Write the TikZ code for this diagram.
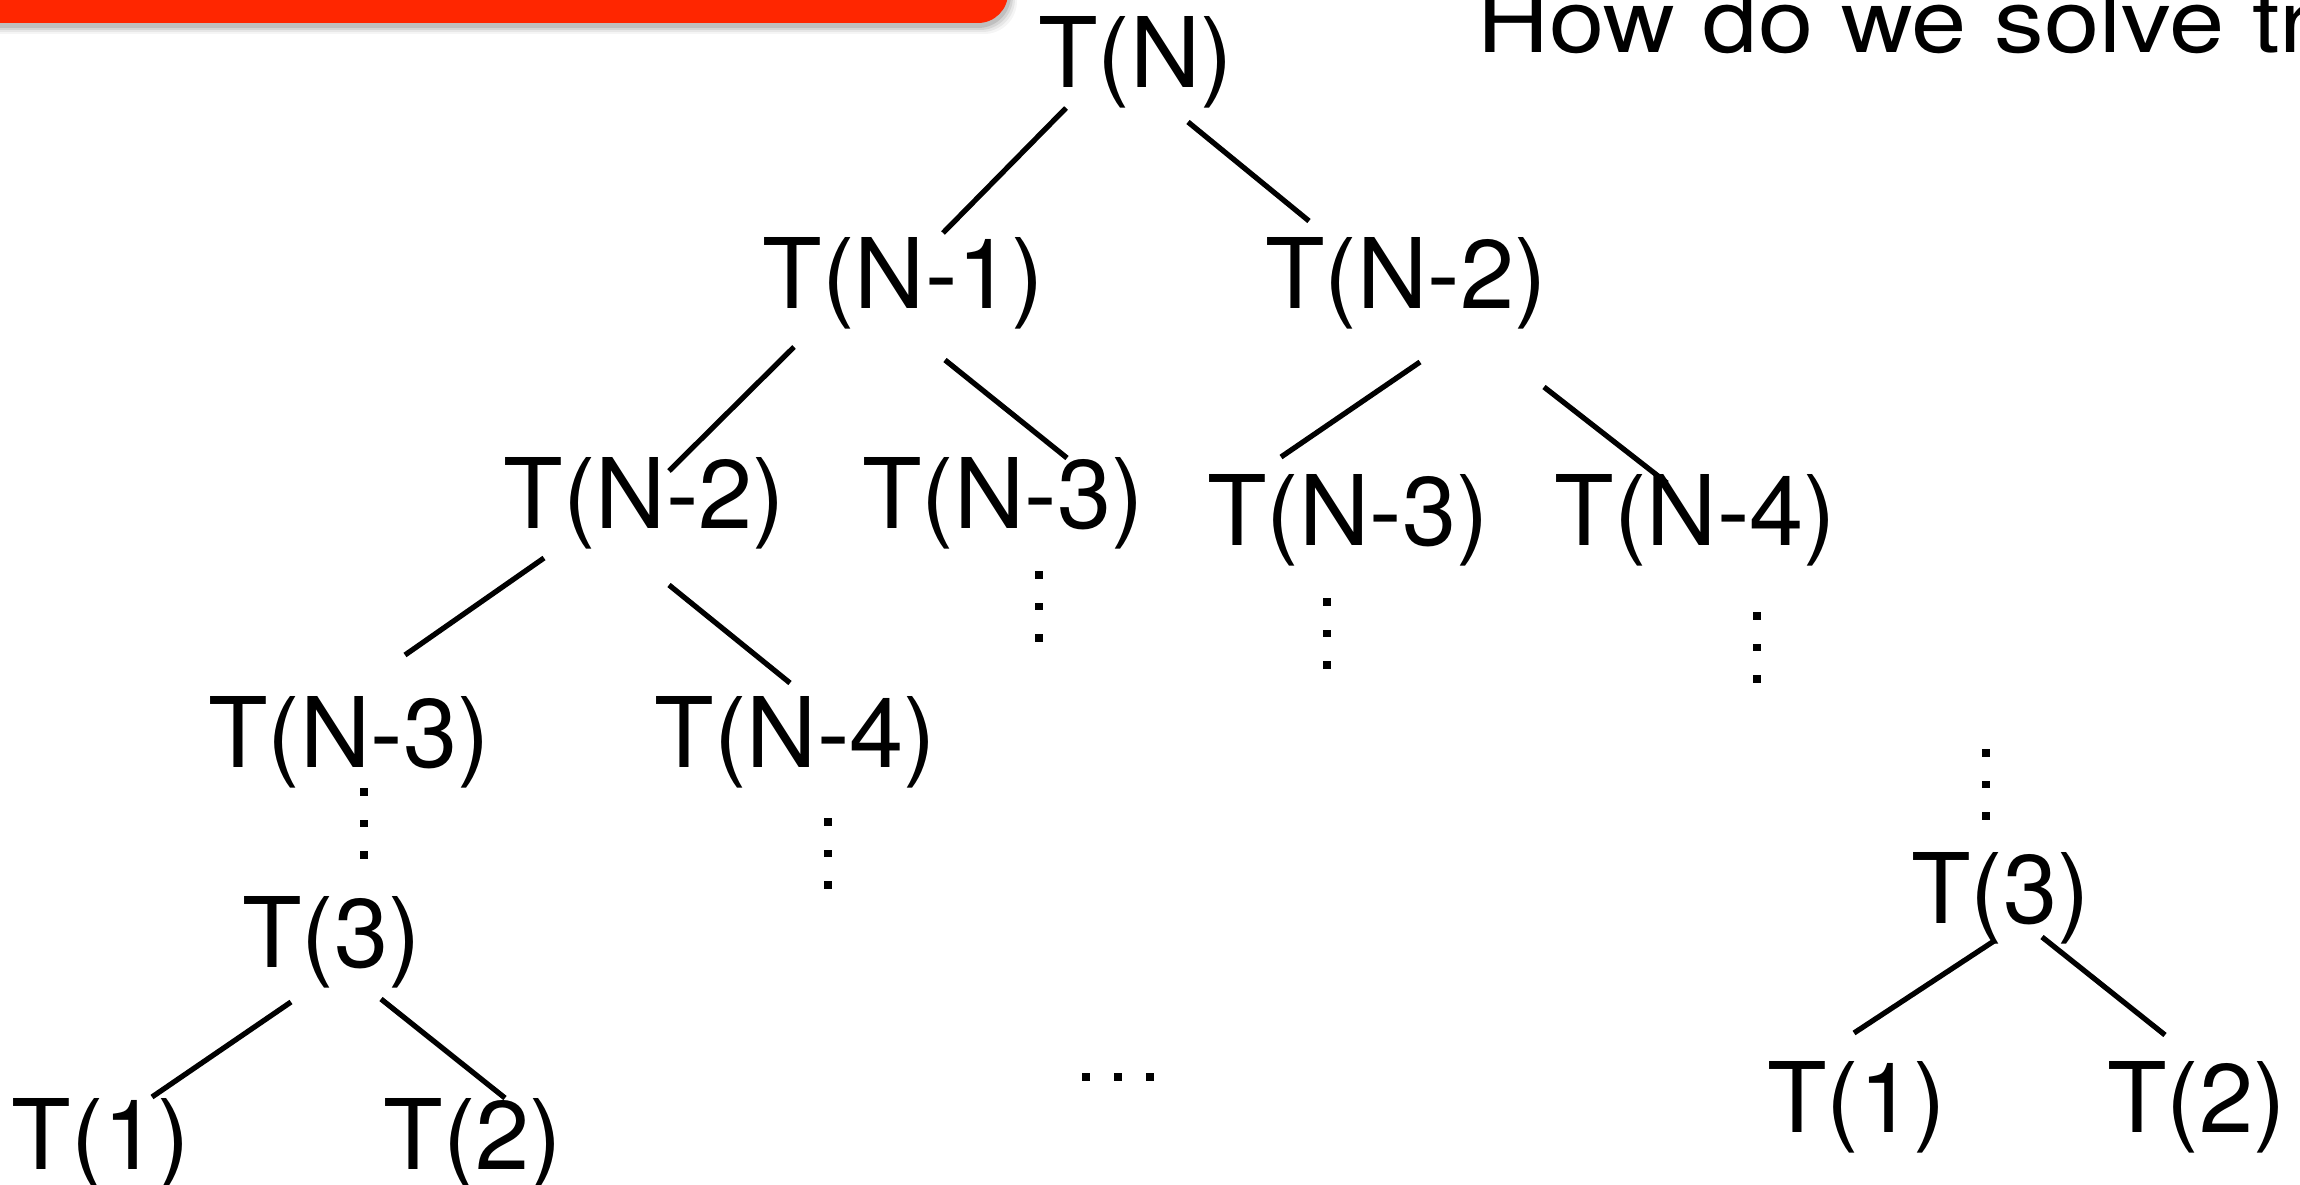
\documentclass[tikz,border=0pt]{standalone}
\usepackage{fontspec}
\setmainfont{TeX Gyre Heros}
\newfontfamily\headfont[FakeStretch=1.13]{TeX Gyre Heros}
\usetikzlibrary{calc}
\definecolor{barred}{RGB}{255,38,0}
\begin{document}
\begin{tikzpicture}[x=0.01cm,y=-0.01cm,
  term/.style={inner sep=0pt, anchor=base, font=\fontsize{27.7}{30}\selectfont},
  edge/.style={line width=1.5pt},
  pics/vdots/.style={code={\foreach \k in {0,1,2}{\fill (-3.75,-3.75+31.5*\k) rectangle (3.75,3.75+31.5*\k);}}},
  pics/hdots/.style={code={\foreach \k in {0,1,2}{\fill (-3.75+32*\k,-3.75) rectangle (3.75+32*\k,3.75);}}}
]
\useasboundingbox (0,0) rectangle (2300,1185);
\clip (0,0) rectangle (2300,1185);

% title bar with its soft shadow
\foreach \g/\o in {7/0.04,5/0.06,3/0.08,1/0.10}{
  \fill[black,opacity=\o,rounded corners=0.33cm] (-80,-80) rectangle (1010+\g,27+\g);
}
\fill[barred,rounded corners=0.3cm] (-80,-80) rectangle (1008,23);

% heading
\node[anchor=base west, inner sep=0pt, font=\headfont\fontsize{25}{29}\selectfont] (title) at (1477,53) {How do we solve tr};

% recursion tree
\node[term] (tN)  at (1135.5,88)  {T(N)};
\node[term] (tN1) at (903.5,308)  {T(N-1)};
\node[term] (tN2a) at (1406,308)  {T(N-2)};
\node[term] (tN2b) at (644.5,528) {T(N-2)};
\node[term] (tN3a) at (1003,528)  {T(N-3)};
\node[term] (tN3b) at (1348,545)  {T(N-3)};
\node[term] (tN4a) at (1695.5,545) {T(N-4)};
\node[term] (tN3c) at (349,767)   {T(N-3)};
\node[term] (tN4b) at (795.5,767) {T(N-4)};
\node[term] (t3a) at (331.5,967)  {T(3)};
\node[term] (t1a) at (101,1169)   {T(1)};
\node[term] (t2a) at (473,1169)   {T(2)};
\node[term] (t3b) at (2000.5,923) {T(3)};
\node[term] (t1b) at (1856.5,1132) {T(1)};
\node[term] (t2b) at (2196.5,1132) {T(2)};

\draw[edge] ($(tN.base)+(-69.5,20)$)  -- ($(tN1.base)+(39.5,-75)$);
\draw[edge] ($(tN.base)+(52.5,34)$)   -- ($(tN2a.base)+(-97,-87)$);
\draw[edge] ($(tN1.base)+(-109.5,39)$) -- ($(tN2b.base)+(24.5,-57)$);
\draw[edge] ($(tN1.base)+(41.5,52)$)  -- ($(tN3a.base)+(64,-70)$);
\draw[edge] ($(tN2a.base)+(14,54)$)   -- ($(tN3b.base)+(-67,-88)$);
\draw[edge] ($(tN2a.base)+(138,79)$)  -- ($(tN4a.base)+(-28.5,-62)$);
\draw[edge] ($(tN2b.base)+(-100.5,30)$) -- ($(tN3c.base)+(56,-112)$);
\draw[edge] ($(tN2b.base)+(24.5,57)$) -- ($(tN4b.base)+(-5.5,-84)$);
\draw[edge] ($(t3a.base)+(-40.5,35)$) -- ($(t1a.base)+(51,-72)$);
\draw[edge] ($(t3a.base)+(49.5,32)$)  -- ($(t2a.base)+(32,-71)$);
\draw[edge] ($(t3b.base)+(-6.5,18)$)  -- ($(t1b.base)+(-2.5,-99)$);
\draw[edge] ($(t3b.base)+(41.5,14)$)  -- ($(t2b.base)+(-31.5,-97)$);

% elided subtrees
\pic at (1039,575) {vdots};
\pic at (1327,602) {vdots};
\pic at (1757,616) {vdots};
\pic at (364,792)  {vdots};
\pic at (828,822)  {vdots};
\pic at (1986,753) {vdots};
\pic at (1086,1077) {hdots};
\end{tikzpicture}
\end{document}
